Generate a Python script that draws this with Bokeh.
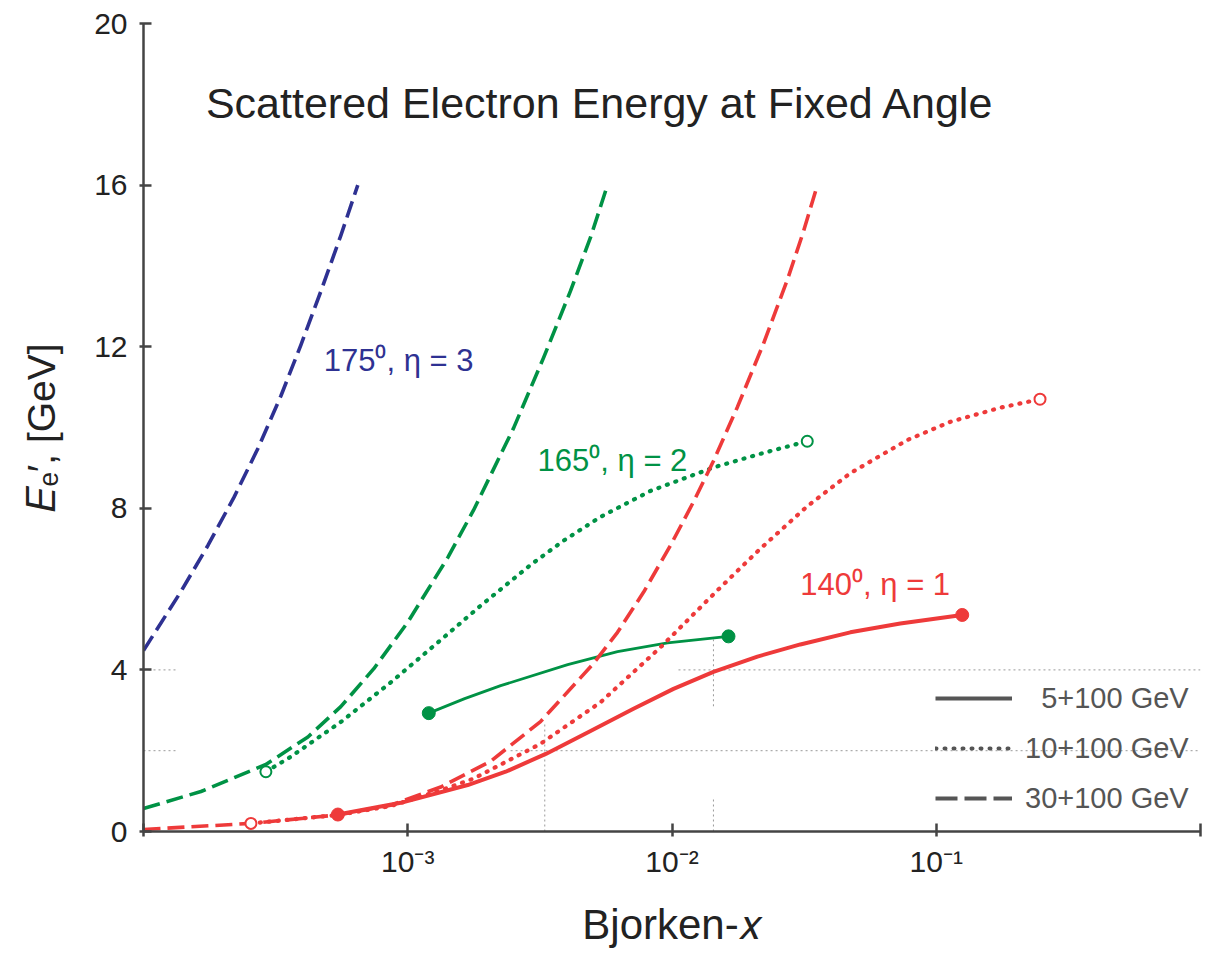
from bokeh.plotting import figure
from bokeh.models import Range1d, FixedTicker, Label, Legend, LegendItem
from bokeh.embed import file_html
from bokeh.resources import INLINE

FONT = "Liberation Sans"
BLUE = "#2e3192"
GREEN = "#009245"
RED = "#ee3a3a"
GREY = "#555555"

# ---------------- data ----------------
# 175 deg, eta = 3 : 30+100 GeV (dashed)
blue30_x = [1.0e-4, 1.386e-4, 1.753e-4, 2.199e-4, 2.71e-4, 3.31e-4, 3.94e-4, 4.69e-4, 5.58e-4, 6.47e-4]
blue30_y = [4.48, 5.94, 7.08, 8.27, 9.48, 10.78, 12.04, 13.37, 14.75, 16.00]

# 165 deg, eta = 2
green30_x = [1.0e-4, 1.65e-4, 2.905e-4, 4.19e-4, 5.58e-4, 7.44e-4, 1.0e-3, 1.417e-3, 1.776e-3, 2.517e-3, 3.267e-3, 4.13e-3, 4.92e-3, 5.70e-3]
green30_y = [0.57, 0.99, 1.66, 2.34, 3.09, 4.03, 5.18, 6.78, 7.96, 9.99, 11.73, 13.38, 14.71, 16.00]
green10_x = [2.905e-4, 3.61e-4, 5.58e-4, 8.62e-4, 1.333e-3, 1.888e-3, 2.917e-3, 3.89e-3, 5.37e-3, 8.29e-3, 1.435e-2, 2.161e-2, 3.25e-2]
green10_y = [1.48, 1.85, 2.71, 3.69, 4.74, 5.59, 6.60, 7.20, 7.79, 8.43, 9.01, 9.35, 9.66]
green5_x = [1.201e-3, 1.642e-3, 2.247e-3, 4.03e-3, 6.22e-3, 9.62e-3, 1.636e-2]
green5_y = [2.93, 3.29, 3.61, 4.13, 4.45, 4.67, 4.83]

# 140 deg, eta = 1
red30_x = [1.0e-4, 2.55e-4, 5.44e-4, 8.62e-4, 1.333e-3, 2.06e-3, 3.18e-3, 5.05e-3, 6.22e-3, 7.80e-3, 9.87e-3, 1.206e-2, 1.435e-2, 1.769e-2, 2.218e-2, 2.734e-2, 3.14e-2, 3.55e-2]
red30_y = [0.05, 0.20, 0.41, 0.65, 1.10, 1.74, 2.72, 4.16, 4.93, 5.92, 7.08, 8.16, 9.17, 10.51, 12.07, 13.66, 14.84, 16.00]
red10_x = [2.55e-4, 5.44e-4, 8.62e-4, 1.333e-3, 1.776e-3, 3.18e-3, 5.37e-3, 9.05e-3, 1.486e-2, 2.16e-2, 3.25e-2, 4.73e-2, 7.77e-2, 0.113, 0.1746, 0.247]
red10_y = [0.20, 0.41, 0.63, 1.02, 1.31, 2.17, 3.20, 4.56, 5.97, 7.00, 8.05, 8.87, 9.69, 10.14, 10.49, 10.70]
red5_x = [5.44e-4, 9.41e-4, 1.686e-3, 2.348e-3, 3.33e-3, 4.918e-3, 7.15e-3, 1.013e-2, 1.435e-2, 2.105e-2, 3.06e-2, 4.73e-2, 7.31e-2, 0.1254]
red5_y = [0.42, 0.71, 1.15, 1.48, 1.92, 2.49, 3.04, 3.53, 3.95, 4.33, 4.63, 4.93, 5.15, 5.36]

# end markers
open_x = [2.905e-4, 3.25e-2, 2.55e-4, 0.247]
open_y = [1.48, 9.66, 0.20, 10.70]
open_c = [GREEN, GREEN, RED, RED]
filled_x = [1.201e-3, 1.636e-2, 5.44e-4, 0.1254]
filled_y = [2.93, 4.83, 0.42, 5.36]
filled_c = [GREEN, GREEN, RED, RED]

# faint guide lines (x0, y0, x1, y1)
guide_x0 = [3.3e-3, 1.435e-2, 1.435e-2, 1.0e-4, 1.058e-2, 1.0e-4, 2.45e-3]
guide_y0 = [0.0, 0.0, 3.1, 4.0, 4.0, 2.0, 2.0]
guide_x1 = [3.3e-3, 1.435e-2, 1.435e-2, 1.339e-4, 1.0, 1.339e-4, 1.0]
guide_y1 = [2.71, 0.86, 4.75, 4.0, 4.0, 2.0, 2.0]

x_ticks = [1e-4, 1e-3, 1e-2, 1e-1, 1.0]
x_tick_labels = ["", "10\u207b\u00b3", "10\u207b\u00b2", "10\u207b\u00b9", ""]
y_ticks = [0, 4, 8, 12, 16, 20]

legend_labels = ["\u20075+100 GeV", "10+100 GeV", "30+100 GeV"]
nan = float("nan")

# ---------------- figure ----------------
p = figure(width=1225, height=950, x_axis_type="log",
           x_range=Range1d(1e-4, 1.0), y_range=Range1d(0, 20),
           output_backend="svg", toolbar_location=None,
           min_border_left=143, min_border_right=25,
           min_border_top=23, min_border_bottom=115)
p.outline_line_color = None
p.grid.visible = False
p.background_fill_color = "white"

for ax in (p.xaxis[0], p.yaxis[0]):
    ax.axis_line_color = "#444444"
    ax.axis_line_width = 2.5
    ax.major_tick_line_color = "#444444"
    ax.major_tick_line_width = 2.5
    ax.minor_tick_line_color = None
    ax.major_label_text_font = FONT
    ax.major_label_text_color = "#222222"
    ax.major_label_text_font_size = "30px"
    ax.axis_label_text_font = FONT
    ax.axis_label_text_color = "#222222"
    ax.axis_label_text_font_style = "normal"

p.xaxis.ticker = FixedTicker(ticks=x_ticks)
p.xaxis.major_label_overrides = {t: l for t, l in zip(x_ticks, x_tick_labels)}
p.xaxis.major_tick_in = 8
p.xaxis.major_tick_out = 5
p.xaxis.major_label_standoff = 8
p.xaxis.axis_label = "Bjorken-\U0001d465"
p.xaxis.axis_label_text_font_size = "42px"
p.xaxis.axis_label_standoff = 20

p.yaxis.ticker = FixedTicker(ticks=y_ticks)
p.yaxis.major_tick_in = 8
p.yaxis.major_tick_out = 4
p.yaxis.major_label_standoff = 12
p.yaxis.axis_label = "\U0001d438\u2091\u2032, [GeV]"
p.yaxis.axis_label_text_font_size = "39px"
p.yaxis.axis_label_standoff = 28

# guide lines
p.segment(guide_x0, guide_y0, guide_x1, guide_y1, line_color="#9a9a9a",
          line_width=1, line_dash="2 3")

# curves
dash = "17 7"
dot = "1 8"
p.line(blue30_x, blue30_y, line_color=BLUE, line_width=3.6, line_dash=dash, line_join="round")
p.line(green30_x, green30_y, line_color=GREEN, line_width=3.6, line_dash=dash, line_join="round")
p.line(green10_x, green10_y, line_color=GREEN, line_width=4.2, line_dash=dot, line_cap="round")
p.line(green5_x, green5_y, line_color=GREEN, line_width=2.8, line_join="round")
p.line(red30_x, red30_y, line_color=RED, line_width=3.6, line_dash=dash, line_join="round")
p.line(red10_x, red10_y, line_color=RED, line_width=4.2, line_dash=dot, line_cap="round")
p.line(red5_x, red5_y, line_color=RED, line_width=4.0, line_join="round")

p.scatter(open_x, open_y, marker="circle", size=11, fill_color="white",
          line_color=open_c, line_width=2)
p.scatter(filled_x, filled_y, marker="circle", size=13, fill_color=filled_c,
          line_color=filled_c)

# legend (grey samples; proxies hold a single NaN so nothing is drawn in the plot)
l1 = p.line([nan], [nan], line_color=GREY, line_width=3.8)
l2 = p.line([nan], [nan], line_color=GREY, line_width=4.0, line_dash=dot, line_cap="round")
l3 = p.line([nan], [nan], line_color=GREY, line_width=3.8, line_dash="22 7")
legend = Legend(items=[LegendItem(label=legend_labels[0], renderers=[l1]),
                       LegendItem(label=legend_labels[1], renderers=[l2]),
                       LegendItem(label=legend_labels[2], renderers=[l3])],
                location=(792, 16), glyph_width=77, glyph_height=30,
                label_standoff=13, label_height=34, spacing=16,
                padding=0, margin=0, border_line_color=None,
                background_fill_alpha=0, label_text_font=FONT,
                label_text_font_size="29px", label_text_color=GREY)
p.add_layout(legend)

# texts inside the frame
p.add_layout(Label(x=1.723e-4, y=18.03, text="Scattered Electron Energy at Fixed Angle",
                   text_font=FONT, text_font_size="43px", text_color="#222222",
                   text_baseline="alphabetic"))
p.add_layout(Label(x=4.81e-4, y=11.65, text="175\u2070, \u03b7 = 3", text_font=FONT,
                   text_font_size="31px", text_color=BLUE, text_baseline="alphabetic"))
p.add_layout(Label(x=3.10e-3, y=9.19, text="165\u2070, \u03b7 = 2", text_font=FONT,
                   text_font_size="31px", text_color=GREEN, text_baseline="alphabetic"))
p.add_layout(Label(x=3.06e-2, y=6.11, text="140\u2070, \u03b7 = 1", text_font=FONT,
                   text_font_size="31px", text_color=RED, text_baseline="alphabetic"))

open("out.html", "w").write(file_html(p, INLINE))
